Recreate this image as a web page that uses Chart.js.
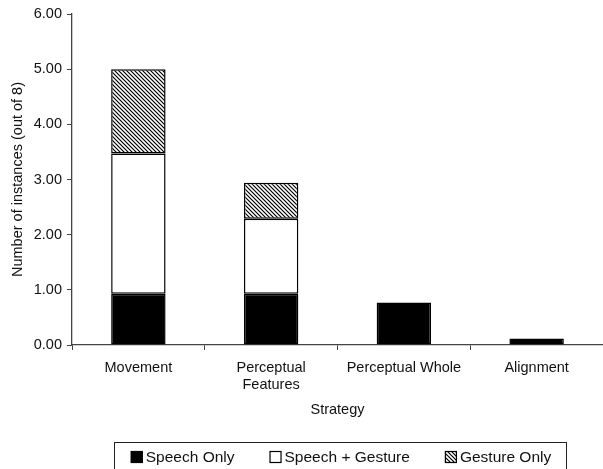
<!DOCTYPE HTML>
<html>
<head>
    <title>Strategy</title>
    <meta charset="utf-8" />
    <script src="https://cdn.jsdelivr.net/npm/chart.js@4.4.1/dist/chart.umd.min.js"></script>
    <style>
        body { margin: 0; background: #fff; }
        #wrap { width: 603px; height: 469px; }
    </style>
</head>
<body>
    <div id="wrap"><canvas id="chartCanvas"></canvas></div>

    <script>
        const categories = ['Movement', ['Perceptual', 'Features'], 'Perceptual Whole', 'Alignment'];
        const speech_only = [0.93, 0.93, 0.77, 0.12];
        const speech_gesture = [2.54, 1.36, 0, 0];
        const gesture_only = [1.53, 0.65, 0, 0];
        const series_names = ['Speech Only', 'Speech + Gesture', 'Gesture Only'];
        const y_ticks = [0, 1, 2, 3, 4, 5, 6];

        const font_family = '"Liberation Sans", Arial, sans-serif';
        Chart.defaults.font.family = font_family;
        Chart.defaults.font.size = 14.5;
        Chart.defaults.color = '#111';

        function hatch() {
            const c = document.createElement('canvas');
            c.width = 4; c.height = 4;
            const ctx = c.getContext('2d');
            ctx.fillStyle = '#fff';
            ctx.fillRect(0, 0, 4, 4);
            ctx.strokeStyle = '#000';
            ctx.lineWidth = 1.2;
            ctx.beginPath();
            ctx.moveTo(-1, -1); ctx.lineTo(5, 5);
            ctx.moveTo(-1, 3); ctx.lineTo(1, 5);
            ctx.moveTo(3, -1); ctx.lineTo(5, 1);
            ctx.stroke();
            return c.getContext('2d').createPattern(c, 'repeat');
        }
        const hatch_pattern = hatch();

        // legend in a frame, drawn by hand
        const frame_legend = {
            id: 'frame_legend',
            afterDraw(chart) {
                const ctx = chart.ctx;
                const sets = chart.data.datasets;
                const box = 12, gap = 3, space = 35;
                ctx.save();
                ctx.font = '15.5px ' + font_family;
                let total = 0;
                const widths = sets.map(ds => ctx.measureText(ds.label).width);
                widths.forEach((w, i) => total += box + gap + w + (i ? space : 0));
                const cx = 341, cy = 457;
                ctx.strokeStyle = '#222';
                ctx.lineWidth = 1;
                ctx.strokeRect(114.5, 442.5, 452, 27);
                let x = cx - total / 2;
                sets.forEach((ds, i) => {
                    ctx.fillStyle = ds.backgroundColor;
                    ctx.fillRect(x, cy - 6, box, box);
                    ctx.strokeStyle = '#000';
                    ctx.lineWidth = 1.2;
                    ctx.strokeRect(x + 0.5, cy - 5.5, box - 1, box - 1);
                    ctx.fillStyle = '#111';
                    ctx.textBaseline = 'middle';
                    ctx.fillText(ds.label, x + box + gap, cy + 1);
                    x += box + gap + widths[i] + space;
                });
                ctx.restore();
            }
        };

        const bar_style = {
            borderColor: '#000',
            borderWidth: 1.5,
            borderSkipped: false,
            barPercentage: 0.41,
            categoryPercentage: 1.0
        };

        const config = {
            type: 'bar',
            data: {
                labels: categories,
                datasets: [
                    Object.assign({ label: series_names[0], data: speech_only, backgroundColor: '#000' }, bar_style),
                    Object.assign({ label: series_names[1], data: speech_gesture, backgroundColor: '#fff' }, bar_style),
                    Object.assign({ label: series_names[2], data: gesture_only, backgroundColor: hatch_pattern }, bar_style)
                ]
            },
            options: {
                responsive: true,
                maintainAspectRatio: false,
                animation: false,
                layout: { padding: { top: 14, right: 0, left: 0, bottom: 45 } },
                plugins: {
                    legend: { display: false },
                    tooltip: { enabled: false }
                },
                scales: {
                    x: {
                        stacked: true,
                        grid: { drawOnChartArea: false, drawTicks: true, tickLength: 5, color: '#444', offset: true },
                        border: { color: '#444', width: 1.3 },
                        ticks: { padding: 9, color: '#111', maxRotation: 0, autoSkip: false },
                        title: { display: true, text: 'Strategy', padding: { top: 4, bottom: 5 } },
                        afterFit(scale) { scale.height = 79; }
                    },
                    y: {
                        stacked: true,
                        min: 0,
                        max: 6,
                        afterBuildTicks(scale) { scale.ticks = y_ticks.map(v => ({ value: v })); },
                        grid: { drawOnChartArea: false, drawTicks: true, tickLength: 5, color: '#444' },
                        border: { color: '#444', width: 1.3 },
                        ticks: { padding: 5, color: '#111', callback: v => v.toFixed(2) },
                        title: { display: true, text: 'Number of instances (out of 8)', padding: { top: 9, bottom: 4 } },
                        afterFit(scale) { scale.width = 72; }
                    }
                }
            },
            plugins: [frame_legend]
        };

        const chart = new Chart(document.getElementById('chartCanvas'), config);
    </script>
</body>
</html>
